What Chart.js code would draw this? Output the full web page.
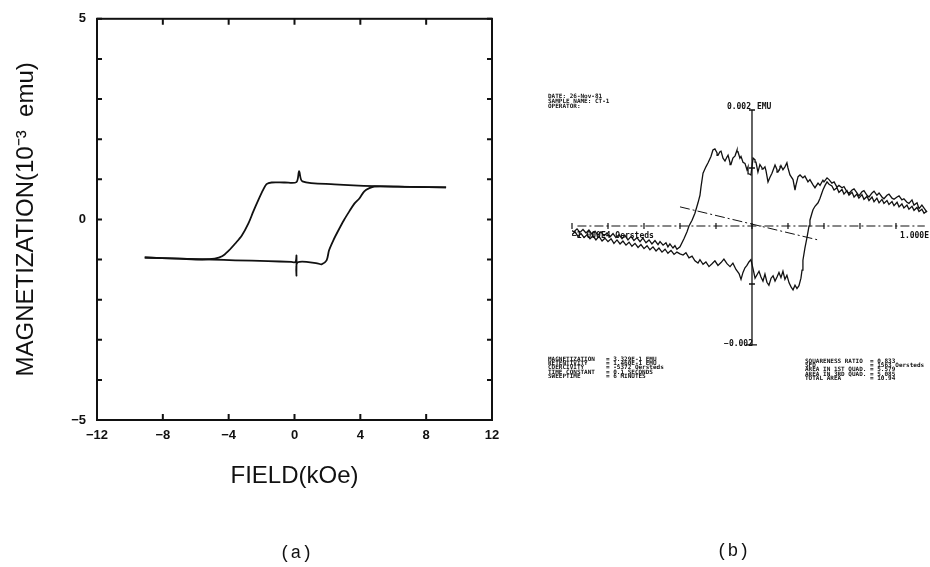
<!DOCTYPE html>
<html>
<head>
<meta charset="utf-8">
<script src="https://cdn.jsdelivr.net/npm/chart.js@4.4.1/dist/chart.umd.min.js"></script>
<style>
  body { margin: 0; background: #fff; }
  #wrap { position: relative; width: 930px; height: 567px; overflow: hidden; }
  #wrap canvas { position: absolute; left: 0; top: 0; }
  .cap { position: absolute; font-family: "Liberation Mono", monospace; font-size: 18px; color: #111; transform: translate(-50%, -50%); }
</style>
</head>
<body>
<div id="wrap">
  <canvas id="chartA" width="930" height="567"></canvas>
  <canvas id="chartB" width="930" height="567"></canvas>
  <div class="cap" style="left:296px; top:553px;">(a)</div>
  <div class="cap" style="left:733px; top:551px;">(b)</div>
</div>
<script>
// (a) hysteresis loop, field in kOe, magnetization in 10^-3 emu
var fieldDown = [9.21, 4.85, 2.42, 0.48, 0.28, 0.12, -0.6, -1.39, -1.7, -1.9, -2.2, -2.5, -2.8, -3.2, -3.6, -4.0, -4.4, -4.85, -5.6, -7.0, -9.1];
var magDown   = [0.80, 0.83, 0.875, 0.95, 1.2, 0.93, 0.92, 0.92, 0.88, 0.74, 0.48, 0.2, -0.1, -0.4, -0.6, -0.78, -0.92, -0.98, -1.0, -0.98, -0.95];
var fieldUp = [-9.1, -7.0, -5.0, -3.6, -1.6, -0.2, 0.06, 0.12, 0.12, 0.2, 1.45, 1.64, 1.95, 2.1, 2.36, 2.67, 3.0, 3.33, 3.65, 3.94, 4.24, 4.55, 4.85, 7.0, 9.21];
var magUp   = [-0.95, -0.98, -1.0, -1.02, -1.04, -1.06, -1.06, -0.9, -1.4, -1.07, -1.1, -1.12, -1.02, -0.77, -0.52, -0.27, -0.02, 0.2, 0.4, 0.52, 0.7, 0.78, 0.82, 0.81, 0.8];

// (b) recorder trace, field in 1E4 Oersteds, moment in 0.001 EMU
var bDownField = [0.972, 0.956, 0.944, 0.928, 0.917, 0.9, 0.889, 0.872, 0.861, 0.844, 0.833, 0.817, 0.806, 0.789, 0.778, 0.761, 0.75, 0.733, 0.722, 0.706,
  0.694, 0.678, 0.667, 0.65, 0.639, 0.622, 0.611, 0.594, 0.583, 0.567, 0.556, 0.539, 0.528, 0.511, 0.5, 0.483, 0.472, 0.456, 0.444, 0.428,
  0.417, 0.4, 0.394, 0.378, 0.367, 0.35, 0.339, 0.322, 0.311, 0.294, 0.283, 0.267, 0.256, 0.244, 0.239, 0.228, 0.211, 0.2, 0.194, 0.183,
  0.172, 0.161, 0.156, 0.144, 0.139, 0.128, 0.111, 0.1, 0.089, 0.078, 0.072, 0.061, 0.056, 0.044, 0.033, 0.022, 0.017, 0.006, -0.006, -0.017,
  -0.022, -0.028, -0.039, -0.05, -0.061, -0.067, -0.078, -0.083, -0.094, -0.106, -0.117, -0.122, -0.133, -0.139, -0.15, -0.161, -0.172, -0.178, -0.189, -0.194,
  -0.206, -0.217, -0.228, -0.244, -0.256, -0.272, -0.283, -0.289, -0.3, -0.317, -0.333, -0.35, -0.361, -0.378, -0.4, -0.417,
  -0.428, -0.439, -0.456, -0.467, -0.478, -0.494, -0.511, -0.522, -0.539, -0.556, -0.572, -0.589, -0.606, -0.622, -0.639, -0.656, -0.672, -0.689,
  -0.706, -0.722, -0.739, -0.756, -0.772, -0.789, -0.806, -0.822, -0.839, -0.856, -0.872, -0.889, -0.906, -0.922, -0.939, -0.956, -0.972, -0.989, -1.0];
var bDownMag = [0.24, 0.31, 0.36, 0.30, 0.40, 0.36, 0.45, 0.39, 0.41, 0.47, 0.45, 0.52, 0.50, 0.46, 0.48, 0.55, 0.53, 0.47, 0.50, 0.57,
  0.53, 0.60, 0.57, 0.50, 0.53, 0.61, 0.59, 0.52, 0.57, 0.64, 0.62, 0.56, 0.59, 0.68, 0.66, 0.70, 0.67, 0.76, 0.74, 0.80,
  0.83, 0.76, 0.79, 0.70, 0.74, 0.66, 0.71, 0.80, 0.76, 0.86, 0.83, 0.88, 0.85, 0.70, 0.62, 0.80, 0.88, 1.00, 1.09, 1.02,
  0.97, 1.04, 1.00, 0.93, 0.97, 1.05, 0.91, 0.84, 0.76, 0.95, 1.02, 0.98, 1.00, 1.06, 0.93, 1.10, 1.14, 1.17, 0.88, 0.90,
  1.02, 0.97, 1.08, 1.10, 1.20, 1.17, 1.28, 1.31, 1.21, 1.17, 1.06, 1.09, 1.22, 1.19, 1.12, 1.17, 1.29, 1.28, 1.22, 1.26,
  1.33, 1.31, 1.20, 1.09, 1.02, 0.91, 0.68, 0.53, 0.40, 0.22, 0.10, 0.00, -0.10, -0.22, -0.36, -0.40,
  -0.34, -0.38, -0.31, -0.36, -0.29, -0.33, -0.27, -0.32, -0.25, -0.31, -0.24, -0.29, -0.21, -0.27, -0.20, -0.25, -0.18, -0.24,
  -0.16, -0.22, -0.15, -0.20, -0.13, -0.19, -0.12, -0.17, -0.10, -0.16, -0.09, -0.14, -0.07, -0.12, -0.06, -0.11, -0.05, -0.10, -0.08];
var bUpField = [-1.0, -0.983, -0.967, -0.95, -0.933, -0.917, -0.9, -0.883, -0.867, -0.85, -0.833, -0.817, -0.8, -0.783, -0.767, -0.75, -0.733, -0.717, -0.7, -0.683,
  -0.667, -0.65, -0.633, -0.617, -0.6, -0.583, -0.567, -0.55, -0.533, -0.517, -0.5, -0.483, -0.467, -0.45, -0.433, -0.417, -0.4,
  -0.383, -0.367, -0.35, -0.333, -0.317, -0.3, -0.289, -0.272, -0.256, -0.239, -0.222, -0.206, -0.189, -0.172, -0.156, -0.139, -0.122, -0.106, -0.089, -0.072,
  -0.061, -0.05, -0.039, -0.028, -0.017, -0.006, 0.006, 0.017, 0.028, 0.039, 0.05, 0.061, 0.072, 0.083, 0.094, 0.106, 0.117, 0.128, 0.139, 0.15,
  0.161, 0.172, 0.183, 0.194, 0.206, 0.217, 0.228, 0.239, 0.25, 0.261, 0.272, 0.278, 0.283, 0.294, 0.306, 0.317, 0.322, 0.333, 0.339, 0.35,
  0.367, 0.378, 0.394, 0.406, 0.417, 0.428, 0.444, 0.456, 0.472, 0.483, 0.5, 0.511, 0.528, 0.539, 0.556, 0.567, 0.583, 0.594, 0.611, 0.622,
  0.639, 0.65, 0.667, 0.678, 0.694, 0.706, 0.722, 0.733, 0.75, 0.761, 0.778, 0.789, 0.806, 0.817, 0.833, 0.844, 0.861, 0.872, 0.889, 0.9,
  0.917, 0.928, 0.944, 0.956, 0.972];
var bUpMag = [-0.15, -0.10, -0.18, -0.13, -0.20, -0.15, -0.22, -0.17, -0.24, -0.18, -0.26, -0.21, -0.27, -0.22, -0.30, -0.24, -0.31, -0.26, -0.33, -0.28,
  -0.35, -0.30, -0.37, -0.32, -0.39, -0.34, -0.41, -0.36, -0.43, -0.38, -0.45, -0.40, -0.47, -0.42, -0.49, -0.45, -0.48,
  -0.50, -0.46, -0.55, -0.52, -0.60, -0.64, -0.58, -0.66, -0.62, -0.70, -0.65, -0.60, -0.68, -0.63, -0.57, -0.65, -0.70, -0.64, -0.75, -0.82,
  -0.92, -0.80, -0.72, -0.68, -0.62, -0.58, -0.74, -0.90, -0.84, -0.78, -0.88, -0.95, -0.83, -0.97, -1.02, -0.90, -0.86, -0.95, -0.88, -0.80,
  -0.89, -0.78, -0.92, -0.85, -0.98, -1.05, -1.10, -1.02, -1.08, -1.03, -0.90, -0.76, -0.59, -0.38, -0.19, 0.00, 0.10, 0.22, 0.28, 0.34,
  0.40, 0.48, 0.62, 0.70, 0.76, 0.72, 0.69, 0.62, 0.66, 0.58, 0.63, 0.55, 0.61, 0.53, 0.58, 0.50, 0.55, 0.48, 0.54, 0.46,
  0.51, 0.44, 0.50, 0.42, 0.48, 0.40, 0.46, 0.39, 0.44, 0.37, 0.42, 0.35, 0.41, 0.33, 0.38, 0.31, 0.36, 0.29, 0.34, 0.27,
  0.32, 0.25, 0.29, 0.22, 0.26];
// dashed slope line through the origin
var slopeField = [-0.4, 0.367];
var slopeMag = [0.33, -0.24];

var infoLeft = ['MAGNETIZATION', 'RETENTIVITY', 'COERCIVITY', 'TIME CONSTANT', 'SWEEPTIME'];
var infoLeftVal = ['= 3.329E-1 EMU', '= 1.460E-1 EMU', '= -5372 Oersteds', '= 0.1 SECONDS', '= 6 MINUTES'];
var infoRight = ['SQUARENESS RATIO', 'SFD', 'AREA IN 1ST QUAD.', 'AREA IN 3RD QUAD.', 'TOTAL AREA'];
var infoRightVal = ['= 0.833', '= 1563 Oersteds', '= 5.579', '= 5.085', '= 10.94'];
var header = ['DATE: 26-Nov-81', 'SAMPLE NAME: CT-1', 'OPERATOR:'];

function pts(xs, ys) {
    return xs.map(function (x, i) { return { x: x, y: ys[i] }; });
}

function minus(v) {
    return String(v).replace('-', '\u2212');
}

// frame with inward ticks on all four sides
var frameA = {
    id: 'frameA',
    afterDraw: function (chart) {
        var ctx = chart.ctx, a = chart.chartArea;
        var sx = chart.scales.x, sy = chart.scales.y;
        ctx.save();
        ctx.strokeStyle = '#111';
        ctx.lineWidth = 2;
        ctx.strokeRect(a.left, a.top, a.right - a.left, a.bottom - a.top);
        ctx.beginPath();
        sx.ticks.forEach(function (t) {
            var px = sx.getPixelForValue(t.value);
            ctx.moveTo(px, a.bottom); ctx.lineTo(px, a.bottom - 6);
            ctx.moveTo(px, a.top); ctx.lineTo(px, a.top + 6);
        });
        sy.ticks.forEach(function (t) {
            var py = sy.getPixelForValue(t.value);
            ctx.moveTo(a.left, py); ctx.lineTo(a.left + 5, py);
            ctx.moveTo(a.right, py); ctx.lineTo(a.right - 5, py);
        });
        ctx.stroke();
        ctx.restore();
    }
};

var chartA = new Chart(document.getElementById('chartA').getContext('2d'), {
    type: 'scatter',
    data: {
        datasets: [{
            data: pts(fieldDown, magDown),
            showLine: true,
            borderColor: '#111',
            borderWidth: 1.8,
            pointRadius: 0,
            tension: 0.3
        }, {
            data: pts(fieldUp, magUp),
            showLine: true,
            borderColor: '#111',
            borderWidth: 1.8,
            pointRadius: 0,
            tension: 0.3
        }]
    },
    options: {
        responsive: false,
        animation: false,
        layout: { padding: { left: 0, top: 17, right: 438, bottom: 67 } },
        plugins: { legend: { display: false }, tooltip: { enabled: false } },
        scales: {
            x: {
                type: 'linear', min: -12, max: 12,
                afterFit: function (s) { s.height = 80; },
                grid: { display: false, drawTicks: false },
                border: { display: false },
                ticks: {
                    stepSize: 4, padding: 8, color: '#111',
                    font: { family: 'Liberation Sans', size: 13, weight: 'bold' },
                    callback: function (v) { return minus(v); }
                },
                title: {
                    display: true, text: 'FIELD(kOe)', color: '#111',
                    font: { family: 'Liberation Sans', size: 24 },
                    padding: { top: 0, bottom: 9 }
                }
            },
            y: {
                type: 'linear', min: -5, max: 5,
                afterFit: function (s) { s.width = 97; },
                grid: { display: false, drawTicks: false },
                border: { display: false },
                ticks: {
                    stepSize: 1, padding: 11, color: '#111',
                    font: { family: 'Liberation Sans', size: 13, weight: 'bold' },
                    callback: function (v) { return (v === 5 || v === 0 || v === -5) ? minus(v) : ''; }
                },
                title: {
                    display: true, text: 'MAGNETIZATION(10\u207B\u00B3  emu)', color: '#111',
                    font: { family: 'Liberation Sans', size: 24 },
                    padding: { top: 12, bottom: 0 }
                }
            }
        }
    },
    plugins: [frameA]
});

// recorder axes and printed read-out for panel (b)
var axesB = {
    id: 'axesB',
    afterDraw: function (chart) {
        var ctx = chart.ctx;
        var sx = chart.scales.x, sy = chart.scales.y;
        var x0 = sx.getPixelForValue(0), y0 = sy.getPixelForValue(0);
        var yTop = sy.getPixelForValue(2), yBot = sy.getPixelForValue(-2.05);
        ctx.save();
        ctx.strokeStyle = '#111';
        ctx.fillStyle = '#111';

        // vertical axis
        ctx.lineWidth = 1.3;
        ctx.beginPath();
        ctx.moveTo(x0, yTop); ctx.lineTo(x0, yBot);
        [2, 1, -1].forEach(function (v) {
            var py = sy.getPixelForValue(v);
            ctx.moveTo(x0 - 3, py); ctx.lineTo(x0 + 3, py);
        });
        ctx.moveTo(x0 - 6, yBot); ctx.lineTo(x0 + 5, yBot);
        ctx.stroke();

        // dash-dot field axis with ticks
        ctx.lineWidth = 1.2;
        ctx.setLineDash([9, 3, 2, 3]);
        ctx.beginPath();
        ctx.moveTo(sx.getPixelForValue(-0.97), y0); ctx.lineTo(sx.getPixelForValue(0.96), y0);
        ctx.stroke();
        ctx.setLineDash([]);
        ctx.beginPath();
        for (var v = -1; v <= 0.81; v += 0.2) {
            var px = sx.getPixelForValue(v);
            ctx.moveTo(px, y0 - 3); ctx.lineTo(px, y0 + 3);
        }
        ctx.stroke();

        // axis labels
        ctx.font = 'bold 8px "DejaVu Sans Mono"';
        ctx.textBaseline = 'middle';
        ctx.textAlign = 'right';
        ctx.fillText('0.002', x0 - 1, yTop - 3);
        ctx.fillText('\u22120.002', x0 + 1, yBot - 1);
        ctx.fillText('1.000E', 929, y0 + 10);
        ctx.textAlign = 'left';
        ctx.fillText('EMU', x0 + 5, yTop - 3);
        ctx.fillText('\u22121.000E4 Oersteds', sx.getPixelForValue(-1), y0 + 10);

        // read-out blocks
        ctx.font = 'bold 6px "DejaVu Sans Mono"';
        header.forEach(function (s, i) { ctx.fillText(s, 548, 96 + i * 5); });
        infoLeft.forEach(function (s, i) {
            ctx.fillText(s, 548, 359 + i * 4.4);
            ctx.fillText(infoLeftVal[i], 606, 359 + i * 4.4);
        });
        infoRight.forEach(function (s, i) {
            ctx.fillText(s, 805, 361 + i * 4.4);
            ctx.fillText(infoRightVal[i], 870, 361 + i * 4.4);
        });
        ctx.restore();
    }
};

var chartB = new Chart(document.getElementById('chartB').getContext('2d'), {
    type: 'scatter',
    data: {
        datasets: [{
            data: pts(bDownField, bDownMag),
            showLine: true,
            borderColor: '#111',
            borderWidth: 1.3,
            pointRadius: 0
        }, {
            data: pts(bUpField, bUpMag),
            showLine: true,
            borderColor: '#111',
            borderWidth: 1.3,
            pointRadius: 0
        }, {
            data: pts(slopeField, slopeMag),
            showLine: true,
            borderColor: '#111',
            borderWidth: 1,
            borderDash: [10, 3, 2, 3],
            pointRadius: 0
        }]
    },
    options: {
        responsive: false,
        animation: false,
        layout: { padding: { left: 572, top: 110, right: 0, bottom: 225 } },
        plugins: { legend: { display: false }, tooltip: { enabled: false } },
        scales: {
            x: { type: 'linear', min: -1, max: 0.989, display: false },
            y: { type: 'linear', min: -2, max: 2, display: false }
        }
    },
    plugins: [axesB]
});
</script>
</body>
</html>
